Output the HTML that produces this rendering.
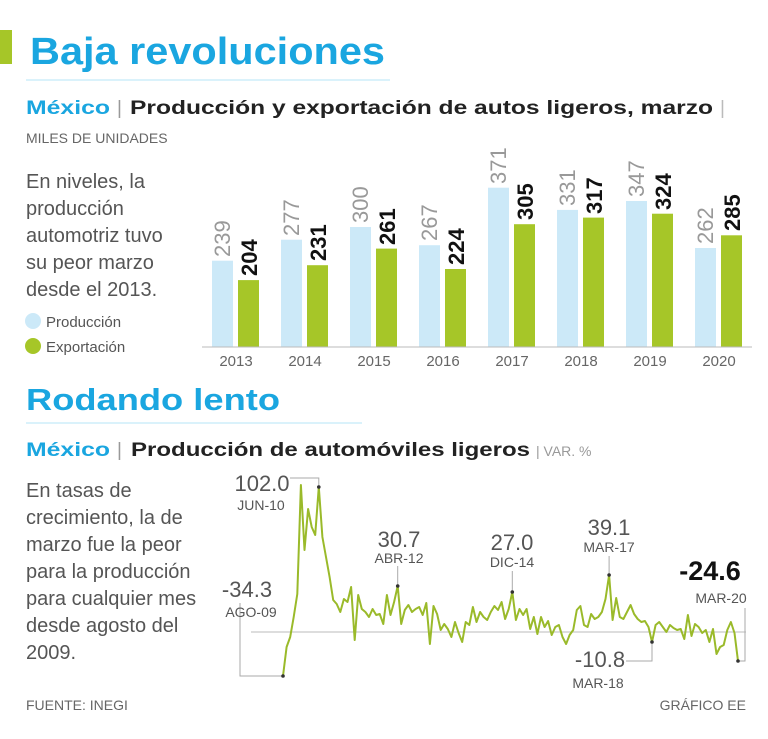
<!DOCTYPE html>
<html><head><meta charset="utf-8"><style>
body{margin:0;background:#fff}
svg{display:block;font-family:"Liberation Sans",sans-serif}
</style></head><body>
<svg width="768" height="739" viewBox="0 0 768 739">
<rect x="0" y="30" width="12" height="34" fill="#a6c628"/>
<text x="30" y="64" font-size="38" font-weight="bold" fill="#1aa6e0" textLength="355" lengthAdjust="spacingAndGlyphs">Baja revoluciones</text>
<line x1="26" y1="80" x2="390" y2="80" stroke="#cdeefa" stroke-width="1.5"/>
<text x="26" y="114" font-size="19" font-weight="bold" fill="#1aa6e0" textLength="84" lengthAdjust="spacingAndGlyphs">México</text>
<text x="117" y="114" font-size="19" fill="#999">|</text>
<text x="130" y="114" font-size="19" font-weight="bold" fill="#222" textLength="583" lengthAdjust="spacingAndGlyphs">Producción y exportación de autos ligeros, marzo</text>
<text x="720" y="114" font-size="19" fill="#bbb">|</text>
<text x="26" y="143" font-size="14" fill="#666">MILES DE UNIDADES</text>
<g font-size="20" fill="#555">
<text x="26" y="188">En niveles, la</text>
<text x="26" y="215">producción</text>
<text x="26" y="242">automotriz tuvo</text>
<text x="26" y="269">su peor marzo</text>
<text x="26" y="296">desde el 2013.</text>
</g>
<circle cx="33" cy="321" r="8" fill="#cce9f8"/>
<text x="46" y="327" font-size="15" fill="#555">Producción</text>
<circle cx="33" cy="346" r="8" fill="#a6c628"/>
<text x="46" y="352" font-size="15" fill="#555">Exportación</text>
<g fill="#cce9f8">
<rect x="212" y="260.7" width="21" height="86.3"/>
<rect x="281" y="239.7" width="21" height="107.3"/>
<rect x="350" y="227" width="21" height="120"/>
<rect x="419" y="245.2" width="21" height="101.8"/>
<rect x="488" y="187.7" width="21" height="159.3"/>
<rect x="557" y="209.9" width="21" height="137.1"/>
<rect x="626" y="201" width="21" height="146"/>
<rect x="695" y="248" width="21" height="99"/>
</g>
<g fill="#a6c628">
<rect x="238" y="280.1" width="21" height="66.9"/>
<rect x="307" y="265.2" width="21" height="81.8"/>
<rect x="376" y="248.6" width="21" height="98.4"/>
<rect x="445" y="269" width="21" height="78"/>
<rect x="514" y="224.2" width="21" height="122.8"/>
<rect x="583" y="217.6" width="21" height="129.4"/>
<rect x="652" y="213.7" width="21" height="133.3"/>
<rect x="721" y="235.3" width="21" height="111.7"/>
</g>
<line x1="202" y1="347" x2="752" y2="347" stroke="#bbb" stroke-width="1"/>
<g font-size="22" fill="#999">
<text transform="translate(230,257) rotate(-90)">239</text>
<text transform="translate(299,236) rotate(-90)">277</text>
<text transform="translate(368,223) rotate(-90)">300</text>
<text transform="translate(437,241) rotate(-90)">267</text>
<text transform="translate(506,184) rotate(-90)">371</text>
<text transform="translate(575,206) rotate(-90)">331</text>
<text transform="translate(644,197) rotate(-90)">347</text>
<text transform="translate(713,244) rotate(-90)">262</text>
</g>
<g font-size="22" fill="#111" font-weight="bold">
<text transform="translate(257,276) rotate(-90)">204</text>
<text transform="translate(326,261) rotate(-90)">231</text>
<text transform="translate(395,245) rotate(-90)">261</text>
<text transform="translate(464,265) rotate(-90)">224</text>
<text transform="translate(533,220) rotate(-90)">305</text>
<text transform="translate(602,214) rotate(-90)">317</text>
<text transform="translate(671,210) rotate(-90)">324</text>
<text transform="translate(740,231) rotate(-90)">285</text>
</g>
<g font-size="15" fill="#666" text-anchor="middle">
<text x="236" y="366">2013</text><text x="305" y="366">2014</text><text x="374" y="366">2015</text><text x="443" y="366">2016</text>
<text x="512" y="366">2017</text><text x="581" y="366">2018</text><text x="650" y="366">2019</text><text x="719" y="366">2020</text>
</g>
<text x="26" y="410" font-size="31" font-weight="bold" fill="#1aa6e0" textLength="254" lengthAdjust="spacingAndGlyphs">Rodando lento</text>
<line x1="26" y1="423" x2="362" y2="423" stroke="#cdeefa" stroke-width="1.5"/>
<text x="26" y="456" font-size="19" font-weight="bold" fill="#1aa6e0" textLength="84" lengthAdjust="spacingAndGlyphs">México</text>
<text x="117" y="456" font-size="19" fill="#999">|</text>
<text x="131" y="456" font-size="19" font-weight="bold" fill="#222" textLength="399" lengthAdjust="spacingAndGlyphs">Producción de automóviles ligeros</text>
<text x="536" y="456" font-size="14" fill="#999">| VAR. %</text>
<g font-size="20" fill="#555">
<text x="26" y="497">En tasas de</text>
<text x="26" y="524">crecimiento, la de</text>
<text x="26" y="551">marzo fue la peor</text>
<text x="26" y="578">para la producción</text>
<text x="26" y="605">para cualquier mes</text>
<text x="26" y="632">desde agosto del</text>
<text x="26" y="659">2009.</text>
</g>
<line x1="251" y1="632" x2="746" y2="632" stroke="#bbb" stroke-width="1"/>
<g stroke="#aaa" stroke-width="1" fill="none">
<polyline points="240,603 240,676 283,676"/>
<polyline points="290,478 318.8,478 318.8,487"/>
<line x1="397.7" y1="566" x2="397.7" y2="586"/>
<line x1="512.3" y1="571" x2="512.3" y2="592"/>
<line x1="609.1" y1="556" x2="609.1" y2="575"/>
<polyline points="626,661 652,661 652,642"/>
<polyline points="738,661 745,661 745,608"/>
</g>
<g transform="translate(0,-3)">
<polyline fill="none" stroke="#9aba2a" stroke-width="2" stroke-linejoin="round" points="283,679 286.6,650 290.2,640 293.7,620 297.3,597 300.9,488 304.5,553 308.1,512 311.7,530 315.2,538 318.8,490 322.4,540 326,560 329.6,580 333.2,603 336.7,607 340.3,615 343.9,602 347.5,605 351.1,590 354.7,643 358.2,598 361.8,612 365.4,615 369,620 372.6,612 376.2,618 379.7,617 383.3,627 386.9,598 390.5,618 394.1,605 397.7,589 401.2,627 404.8,613 408.4,608 412,615 415.6,612 419.2,610 422.7,618 426.3,606 429.9,647 433.5,609 437.1,617 440.7,633 444.2,627 447.8,632 451.4,640 455,625 458.6,636 462.2,645 465.7,625 469.3,628 472.9,610 476.5,625 480.1,615 483.6,620 487.2,623 490.8,615 494.4,609 498,613 501.6,605 505.1,622 508.7,612 512.3,595 515.9,623 519.5,612 523.1,618 526.6,612 530.2,632 533.8,620 537.4,637 541,620 544.6,630 548.1,624 551.7,638 555.3,630 558.9,628 562.5,640 566.1,647 569.6,638 573.2,633 576.8,613 580.4,609 584,628 587.6,630 591.1,617 594.7,622 598.3,620 601.9,615 605.5,602 609.1,578 612.6,623 616.2,601 619.8,620 623.4,622 627,615 630.6,608 634.1,617 637.7,622 641.3,625 644.9,624 648.5,630 652,645 655.6,628 659.2,625 662.8,630 666.4,635 670,628 673.5,631 677.1,633 680.7,632 684.3,642 687.9,618 691.5,639 695,627 698.6,630 702.2,636 705.8,633 709.4,645 713,632 716.5,657 720.1,650 723.7,648 727.3,633 730.9,625 734.5,636 738,664"/>
<g fill="#333">
<circle cx="283" cy="679" r="1.8"/><circle cx="318.8" cy="490" r="1.8"/><circle cx="397.7" cy="589" r="1.8"/>
<circle cx="512.3" cy="595" r="1.8"/><circle cx="609.1" cy="578" r="1.8"/><circle cx="652" cy="645" r="1.8"/><circle cx="738" cy="664" r="1.8"/>
</g>
</g>
<g fill="#555" text-anchor="middle">
<text x="262" y="491" font-size="22">102.0</text>
<text x="261" y="510" font-size="14">JUN-10</text>
<text x="247" y="597" font-size="22">-34.3</text>
<text x="251" y="617" font-size="14">AGO-09</text>
<text x="399" y="547" font-size="22">30.7</text>
<text x="399" y="563" font-size="14">ABR-12</text>
<text x="512" y="550" font-size="22">27.0</text>
<text x="512" y="567" font-size="14">DIC-14</text>
<text x="609" y="535" font-size="22">39.1</text>
<text x="609" y="552" font-size="14">MAR-17</text>
<text x="600" y="667" font-size="22">-10.8</text>
<text x="598" y="688" font-size="14">MAR-18</text>
<text x="710" y="580" font-size="27" font-weight="bold" fill="#111">-24.6</text>
<text x="721" y="603" font-size="14">MAR-20</text>
</g>
<text x="26" y="710" font-size="14" fill="#666">FUENTE: INEGI</text>
<text x="746" y="710" font-size="14" fill="#666" text-anchor="end">GRÁFICO EE</text>
</svg>
</body></html>
